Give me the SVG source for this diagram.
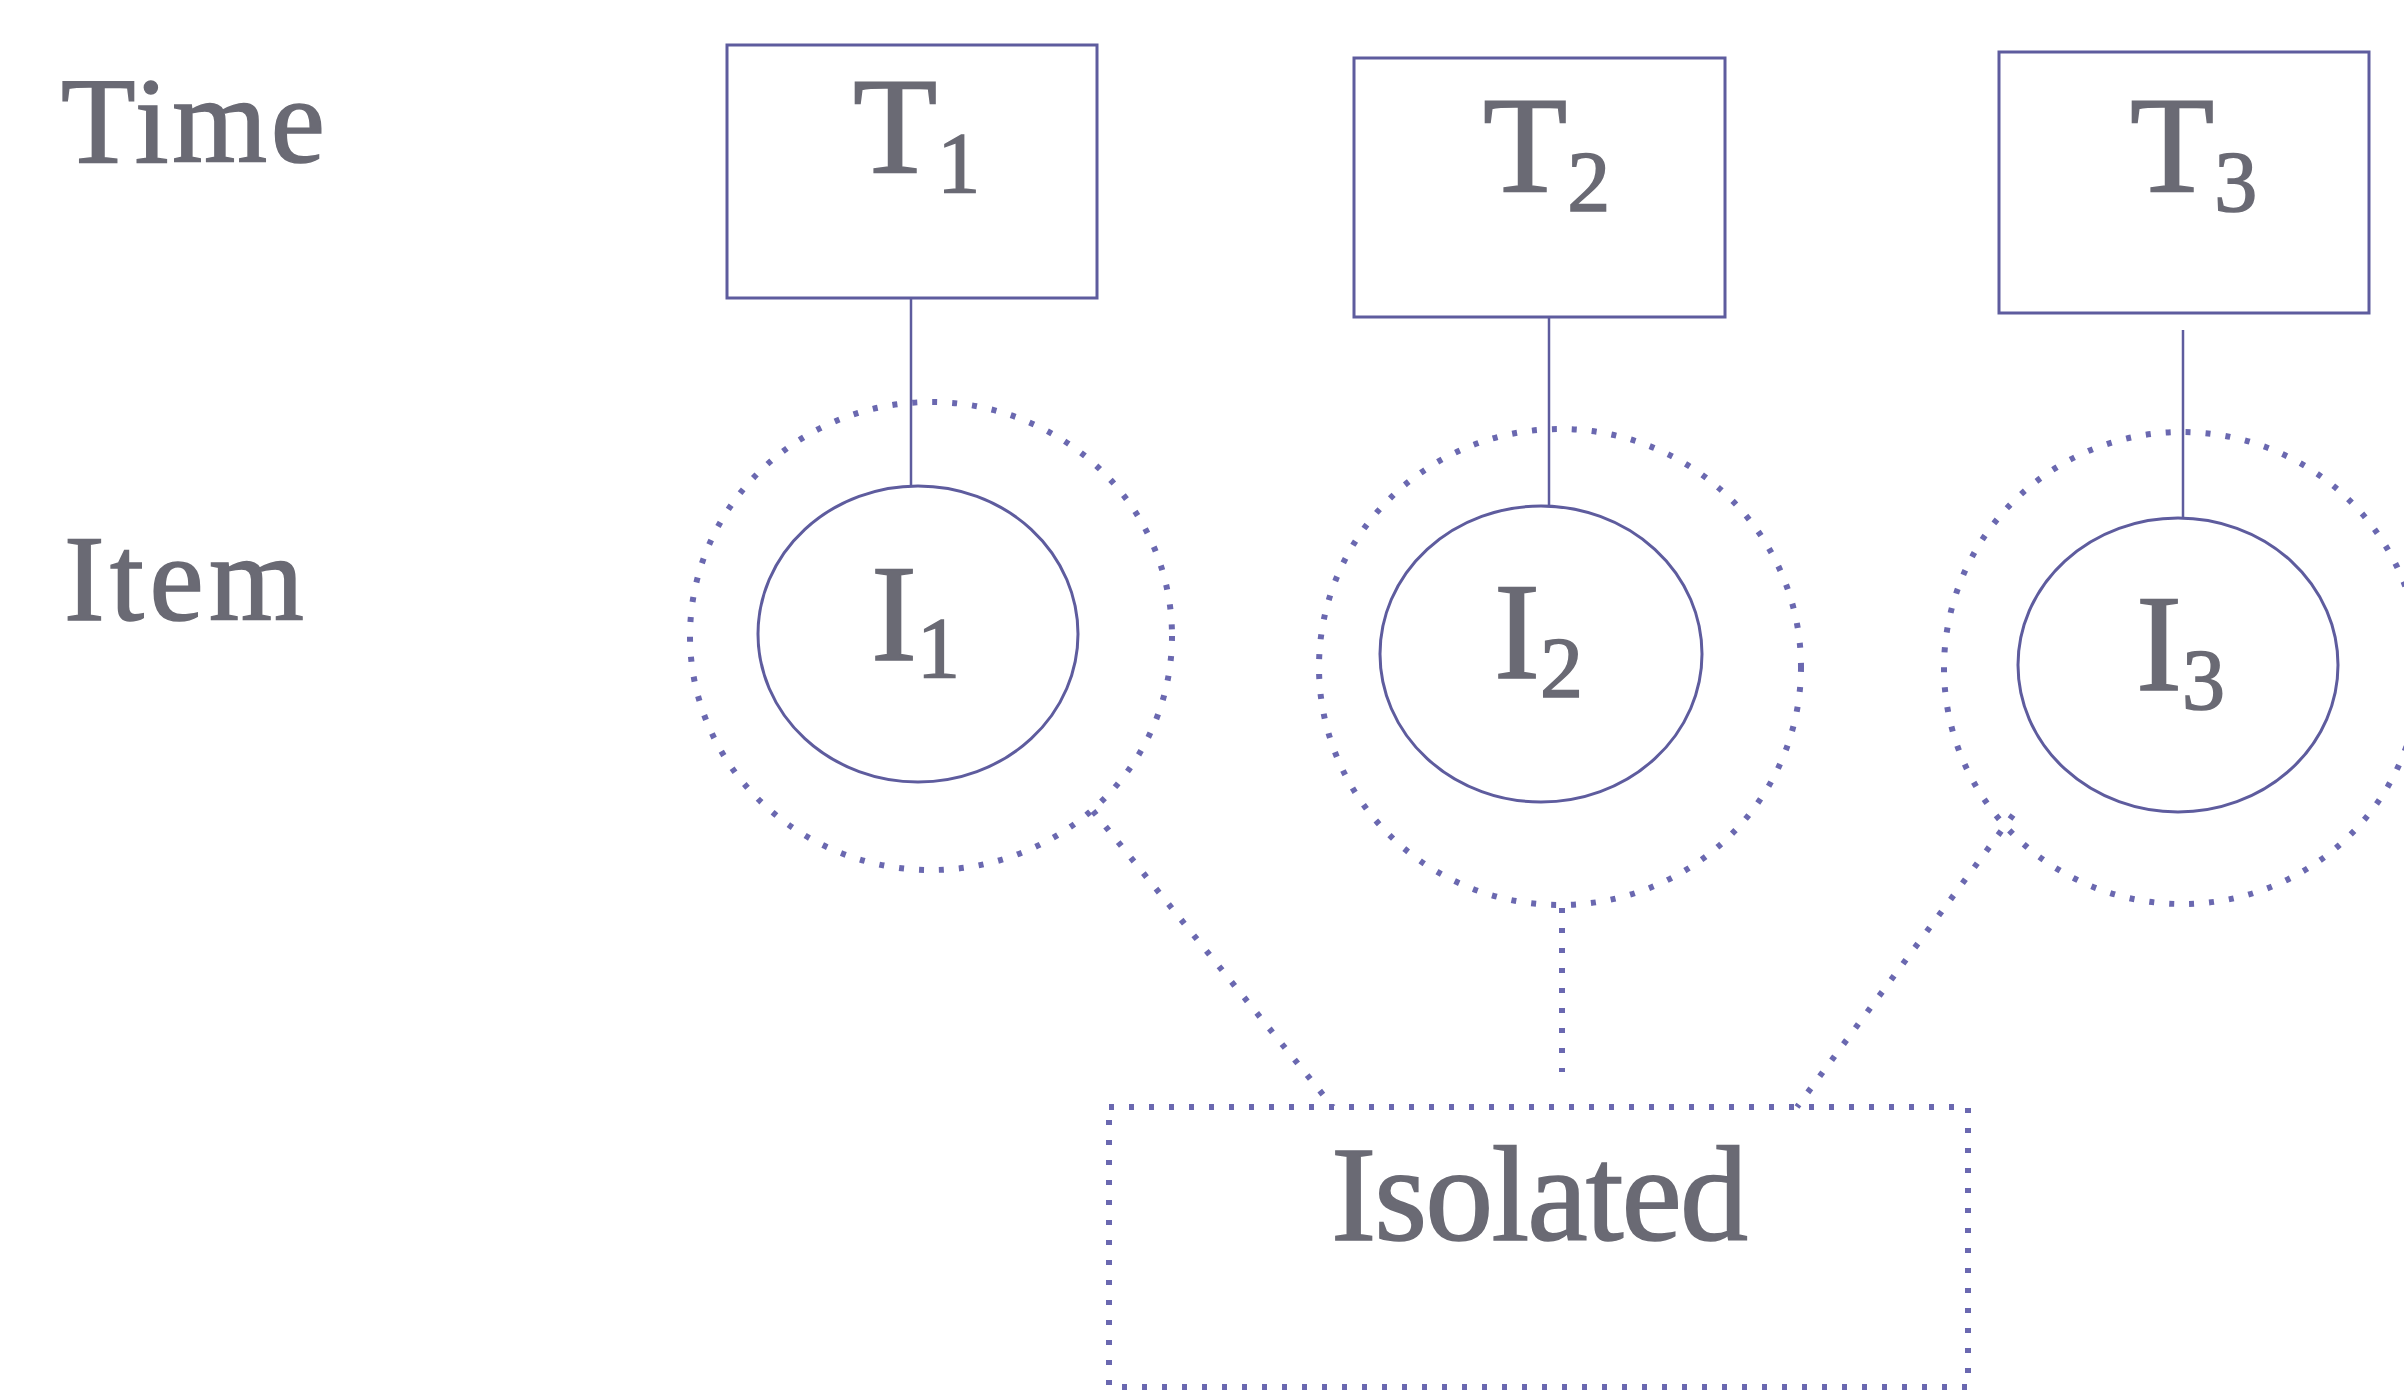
<svg xmlns="http://www.w3.org/2000/svg" width="2404" height="1395" viewBox="0 0 2404 1395">
  <style>
    .lbl { font-family: "Liberation Serif", "Times New Roman", serif; fill: #6a6a74; stroke: #6a6a74; stroke-width: 1.6; }
    .box { fill: none; stroke: #5e5c9e; stroke-width: 3; }
    .ring { fill: none; stroke: #5e5c9e; stroke-width: 3; }
    .dots { fill: none; stroke: #6a68b0; stroke-width: 6; stroke-dasharray: 5 15; }
    .link { stroke: #5e5c9e; stroke-width: 2.5; }
  </style>
  <rect width="2404" height="1395" fill="#ffffff"/>

  <!-- row labels -->
  <g id="label-time"><text class="lbl" x="61" y="162" font-size="122" textLength="264">Time</text></g>
  <g id="label-item"><text class="lbl" x="64" y="620" font-size="122" textLength="240">Item</text></g>

  <!-- connectors -->
  <g id="connectors">
    <line class="link" x1="911" y1="298" x2="911" y2="486"/>
    <line class="link" x1="1549" y1="317" x2="1549" y2="506"/>
    <line class="link" x1="2183" y1="330" x2="2183" y2="518"/>
    <line class="dots" x1="1093" y1="811" x2="1333" y2="1107"/>
    <line class="dots" x1="1562" y1="908" x2="1562" y2="1072"/>
    <line class="dots" x1="2013" y1="815" x2="1797" y2="1107"/>
  </g>

  <!-- time boxes -->
  <g id="T1">
    <rect class="box" x="727" y="45" width="370" height="253"/>
    <text class="lbl" x="853" y="173" font-size="138">T<tspan font-size="86" dy="19">1</tspan></text>
  </g>
  <g id="T2">
    <rect class="box" x="1354" y="58" width="371" height="259"/>
    <text class="lbl" x="1483" y="192" font-size="138">T<tspan font-size="86" dy="19">2</tspan></text>
  </g>
  <g id="T3">
    <rect class="box" x="1999" y="52" width="370" height="261"/>
    <text class="lbl" x="2130" y="192" font-size="138">T<tspan font-size="86" dy="19">3</tspan></text>
  </g>

  <!-- items with their dotted scope -->
  <g id="I1">
    <ellipse class="dots" cx="931" cy="636" rx="241" ry="234"/>
    <ellipse class="ring" cx="918" cy="634" rx="160" ry="148"/>
    <text class="lbl" x="871" y="660" font-size="138">I<tspan font-size="86" dy="17">1</tspan></text>
  </g>
  <g id="I2">
    <ellipse class="dots" cx="1560" cy="667" rx="241" ry="238"/>
    <ellipse class="ring" cx="1541" cy="654" rx="161" ry="148"/>
    <text class="lbl" x="1494" y="678" font-size="138">I<tspan font-size="86" dy="19">2</tspan></text>
  </g>
  <g id="I3">
    <ellipse class="dots" cx="2182" cy="668" rx="238" ry="236"/>
    <ellipse class="ring" cx="2178" cy="665" rx="160" ry="147"/>
    <text class="lbl" x="2136" y="690" font-size="138">I<tspan font-size="86" dy="19">3</tspan></text>
  </g>

  <!-- isolated group -->
  <g id="isolated">
    <rect class="dots" x="1109" y="1107" width="859" height="280"/>
    <text class="lbl" x="1331" y="1240" font-size="136" textLength="417">Isolated</text>
  </g>
</svg>
